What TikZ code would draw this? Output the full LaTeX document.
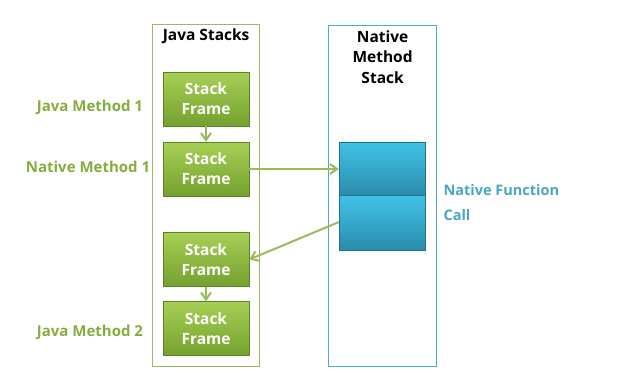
\documentclass[tikz,border=0pt]{standalone}
\usepackage{fontspec}
\setmainfont{Open Sans}
\usetikzlibrary{arrows.meta,positioning,calc}
\definecolor{jgreen}{HTML}{9BBB59}
\definecolor{ltgreen}{HTML}{A6D054}
\definecolor{dkgreen}{HTML}{74A12F}
\definecolor{labgreen}{HTML}{86AC3E}
\definecolor{nblue}{HTML}{4BACC6}
\definecolor{ltblue}{HTML}{40C2E6}
\definecolor{dkblue}{HTML}{2A8CAB}
\definecolor{labblue}{HTML}{49A6C0}
\begin{document}
\begin{tikzpicture}[x=1pt,y=-1pt,every node/.style={font=\bfseries\fontsize{15.5}{20}\selectfont,align=center}]
\useasboundingbox (0,0) rectangle (633,375);
% outer stacks
\node[draw=jgreen,line width=1.2pt,minimum width=107pt,minimum height=342pt,anchor=north west] (jstack) at (152,24) {};
\node[draw=nblue,line width=1.2pt,minimum width=108pt,minimum height=341pt,anchor=north west] (nstack) at (328,25) {};
\node[below=1pt of jstack.north] (jtitle) {Java Stacks};
\node[below=2pt of nstack.north,font=\bfseries\fontsize{15.5}{20.5}\selectfont] (ntitle) {Native\\Method\\Stack};
% stack frames
\tikzset{frame/.style={draw=dkgreen!80!black,line width=0.4pt,top color=ltgreen,bottom color=dkgreen,text=white,minimum width=86pt,minimum height=54pt,inner sep=0pt},
  nframe/.style={draw=dkblue!80!black,line width=0.4pt,top color=ltblue,bottom color=dkblue,minimum width=86pt,minimum height=53pt,inner sep=0pt},
  lab/.style={font=\bfseries\fontsize{15}{16}\selectfont,text=labgreen}}
\node[frame] (f1) at (206,99) {Stack\\Frame};
\node[frame] (f2) at (206,169) {Stack\\Frame};
\node[frame] (f3) at (206,259.5) {Stack\\Frame};
\node[frame] (f4) at (206,328.5) {Stack\\Frame};
\node[nframe,anchor=north] (n1) at (382,142) {};
\node[nframe,below=0pt of n1,minimum height=55pt] (n2) {};
% labels
\node[lab] (l1) at (90,107) {Java Method 1};
\node[lab] (l2) at (88,167) {Native Method 1};
\node[lab] (l4) at (90,332) {Java Method 2};
\node[lab,text=labblue,align=left,anchor=west,font=\bfseries\fontsize{14.5}{25}\selectfont] (nl) at (440,203) {Native Function\\Call};
% calls
\draw[-{Straight Barb[length=2.5mm,width=3.5mm]},jgreen,line width=2pt] (f1)--(f2);
\draw[-{Straight Barb[length=2.5mm,width=3.5mm]},jgreen,line width=2pt] (f3)--(f4);
\draw[-{Straight Barb[length=2.5mm,width=3.5mm]},jgreen,line width=2pt] (f2.east)--(n1.west |- f2.east);
\draw[-{Straight Barb[length=2.5mm,width=3.5mm]},jgreen,line width=2pt] ($(n2.west)+(0,-1)$)--(f3.east);
\end{tikzpicture}
\end{document}
